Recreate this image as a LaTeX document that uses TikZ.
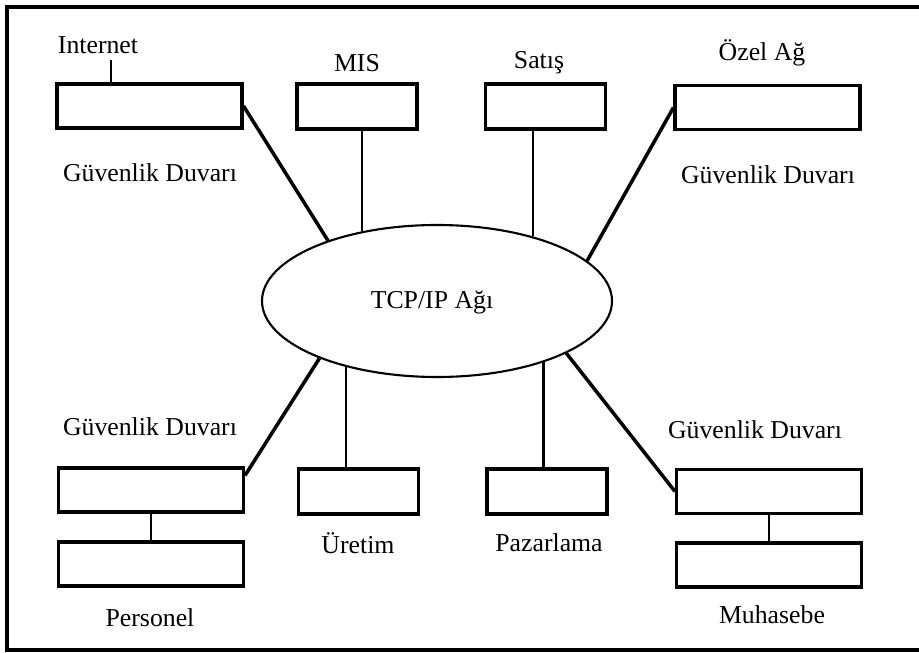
\documentclass[tikz,border=0pt]{standalone}
\usepackage{fontspec}
\setmainfont{Liberation Serif}
\usepackage{tikz}
\usetikzlibrary{shapes.geometric}
\tikzset{
  wbox/.style={draw,line width=2.6pt,minimum width=5.55cm,minimum height=1.32cm,inner sep=0pt},
  nbox/.style={draw,line width=2.6pt,minimum width=3.6cm,minimum height=1.35cm,inner sep=0pt},
  net/.style={ellipse,draw,line width=1.8pt,minimum width=10.5cm,minimum height=4.56cm,inner sep=0pt},
  lnk/.style={line width=3pt},
  vln/.style={line width=2.2pt},
  lbl/.style={inner sep=0pt,font=\fontsize{22}{26}\selectfont}
}
\begin{document}
\begin{tikzpicture}[x=0.03cm,y=-0.03cm]
\useasboundingbox (0,0) rectangle (919,653);
\draw[line width=2.6pt] (921,7) -| (7,650) -- (921,650);
\node[net] (tcp) at (437,301) {}; \node[lbl] (tcpl) at (432,302) {TCP/IP Ağı};
\node[wbox] (fwi) at (149.5,106) {}; \node[lbl] (inet) at (98,45) {Internet};
\coordinate (ilink) at (111,60); \draw[vln] (ilink) -- (ilink |- fwi.north);
\node[lbl] (gd1) at (150,173) {Güvenlik Duvarı};
\draw[lnk] (fwi.east) -- (tcp.151);
\node[nbox] (mis) at (357,106.5) {}; \node[lbl] (misl) at (357,63) {MIS};
\draw[vln] (tcp.137 |- mis.south) -- (tcp.137);
\node[nbox] (sat) at (545.5,106.5) {}; \node[lbl] (satl) at (539,63) {Satış};
\draw[vln] (tcp.34 |- sat.south) -- (tcp.34);
\node[wbox] (fwo) at (767.5,107.5) {}; \node[lbl] (ozel) at (762,53) {Özel Ağ};
\node[lbl] (gd2) at (768,175) {Güvenlik Duvarı};
\draw[lnk] (fwo.west) -- (tcp.15);
\node[lbl] (gd3) at (150,427) {Güvenlik Duvarı};
\node[wbox] (fwp) at (151,490) {}; \node[wbox] (per) at (151,564) {};
\draw[vln] (fwp.south) -- (per.north); \node[lbl] (perl) at (150,618) {Personel};
\coordinate (fwpe) at ([yshift=-0.27cm]fwp.north east);
\draw[lnk] (fwpe) -- (tcp.206);
\node[nbox] (ure) at (358.5,491.5) {}; \node[lbl] (urel) at (358,543) {Üretim};
\draw[vln] (tcp.216 |- ure.north) -- (tcp.216);
\node[nbox] (paz) at (547,491.5) {}; \node[lbl] (pazl) at (549,543) {Pazarlama};
\draw[vln] (tcp.330 |- paz.north) -- (tcp.330);
\node[lbl] (gd4) at (755,430) {Güvenlik Duvarı};
\node[wbox] (fwm) at (769,491.5) {}; \node[wbox] (muh) at (769,565) {};
\draw[vln] (fwm.south) -- (muh.north); \node[lbl] (muhl) at (772,615) {Muhasebe};
\draw[lnk] (fwm.west) -- (tcp.338);
\end{tikzpicture}
\end{document}
